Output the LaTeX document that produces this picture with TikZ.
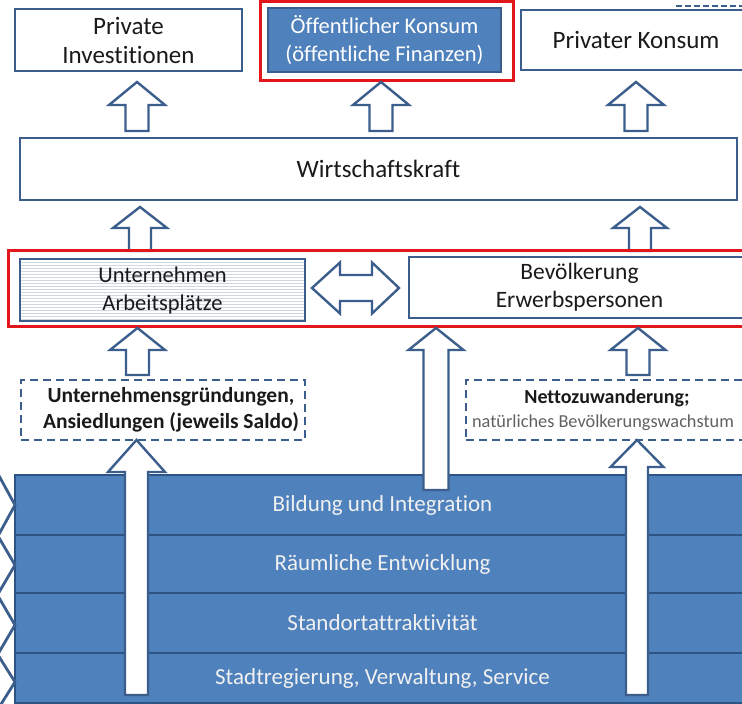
\documentclass[tikz,border=0pt]{standalone}
\usepackage{fontspec}
\setmainfont{Carlito}[Ligatures={NoCommon}]
\usetikzlibrary{patterns}
\definecolor{bdr}{HTML}{3B5E8C}
\definecolor{fillb}{HTML}{4F81BD}
\definecolor{bandline}{HTML}{2E5485}
\definecolor{redf}{HTML}{E3161B}
\definecolor{txt}{HTML}{1A1A1A}
\newcommand{\upblock}[6]{% cx, tip, headbase, bottom, headhalf, shafthalf
  \draw[arrowline] (#1,#2) -- (#1+#5,#3) -- (#1+#6,#3) -- (#1+#6,#4) -- (#1-#6,#4) -- (#1-#6,#3) -- (#1-#5,#3) -- cycle;}
\frenchspacing
\begin{document}
\begin{tikzpicture}[x=1pt,y=-1pt,
  box/.style={draw=bdr, line width=2.6pt, fill=white, text=txt, align=center, inner sep=0pt},
  dbox/.style={box, dash pattern=on 8pt off 5pt},
  arrowline/.style={draw=bdr, line width=2.4pt, fill=white, line join=miter},
  redframe/.style={draw=redf, line width=3pt},
  bandrow/.style={draw=bandline, line width=2.6pt, fill=fillb, text=white!94!black, inner sep=0pt, font=\fontsize{23}{27}\selectfont},
  chev/.style={draw=bdr, line width=2.8pt},
  bigf/.style={font=\fontsize{25}{29}\selectfont},
  midf/.style={font=\fontsize{22.5}{28}\selectfont}
]
\clip (0,0) rectangle (742,704);
\fill[white] (0,0) rectangle (742,704);

% top row
\draw[redframe] (260,1.5) rectangle (513,80);
\node[box, bigf, minimum width=227pt, minimum height=62pt] (pi) at (128.5,40) {Private\\Investitionen};
\node[box, midf, fill=fillb, text=white, minimum width=233pt, minimum height=64pt] (ok) at (384.5,40) {Öffentlicher Konsum\\(öffentliche Finanzen)};
\node[box, bigf, minimum width=230pt, minimum height=60pt] (pk) at (636,40) {Privater Konsum};
\draw[draw=bdr, line width=2.5pt, dash pattern=on 6pt off 3pt] (676,6) -- (742,6);

% arrows to top row
\upblock{137}{82}{105}{131}{28}{11.5}
\upblock{381}{82}{105}{131}{28}{11.5}
\upblock{636}{82}{105}{131}{28}{11.5}

% Wirtschaftskraft
\node[box, bigf, minimum width=717pt, minimum height=62pt] (wk) at (378.5,169) {Wirtschaftskraft};

\upblock{140}{207}{228}{251}{27}{11}
\upblock{640}{207}{228}{251}{27}{11}

% middle row
\draw[redframe] (8,250) rectangle (760,326);
\node[box, midf, preaction={fill=white}, pattern=horizontal lines, pattern color=bdr!25, minimum width=285pt, minimum height=62pt] (ua) at (162.5,290) {Unternehmen\\Arbeitsplätze};
\node[box, font=\fontsize{23.5}{28}\selectfont, minimum width=341pt, minimum height=61pt] (be) at (579.5,287.5) {Bevölkerung\\Erwerbspersonen};
\draw[arrowline] (312,288) -- (340,262.5) -- (340,275) -- (372,275) -- (372,262.5) -- (399,288) -- (372,313.5) -- (372,301) -- (340,301) -- (340,313.5) -- cycle;

% dashed boxes
\node[dbox, font=\bfseries\fontsize{21.5}{26}\selectfont, minimum width=284pt, minimum height=60pt] (ug) at (163,410) {\hspace*{16pt}Unternehmensgründungen,\\\hspace*{16pt}Ansiedlungen (jeweils Saldo)};
\node[dbox, font=\fontsize{20}{24}\selectfont, minimum width=290pt, minimum height=60pt, align=center] (nz) at (611,410) {\bfseries Nettozuwanderung;\hspace*{8pt}\\{\fontsize{18.3}{22}\selectfont\color{black!62}\mdseries natürliches Bevölkerungswachstum\hspace*{16pt}}};

\upblock{137.5}{328}{350}{375}{27.5}{11.5}
\upblock{638}{328}{350}{375}{27.5}{11.5}

% band
\node[bandrow, minimum width=735pt, minimum height=60pt] (r1) at (382.5,505) {Bildung und Integration};
\node[bandrow, minimum width=735pt, minimum height=58pt] (r2) at (382.5,564) {Räumliche Entwicklung};
\node[bandrow, minimum width=735pt, minimum height=60pt] (r3) at (382.5,623) {Standortattraktivität};
\node[bandrow, minimum width=735pt, minimum height=50pt] (r4) at (382.5,678) {Stadtregierung, Verwaltung, Service};

% chevrons at left
\draw[chev] (-2,474) -- (15,505) -- (-2,536);
\draw[chev] (-2,536) -- (15,565) -- (-2,594);
\draw[chev] (-2,596) -- (15,625) -- (-2,654);
\draw[chev] (-2,655) -- (15,682) -- (-2,709);

% long arrows
\upblock{436}{328}{350}{490}{27.5}{12.5}
\upblock{136.5}{440}{472}{695}{28.5}{11.5}
\upblock{637}{440}{467}{695}{26.5}{11}
\end{tikzpicture}
\end{document}
